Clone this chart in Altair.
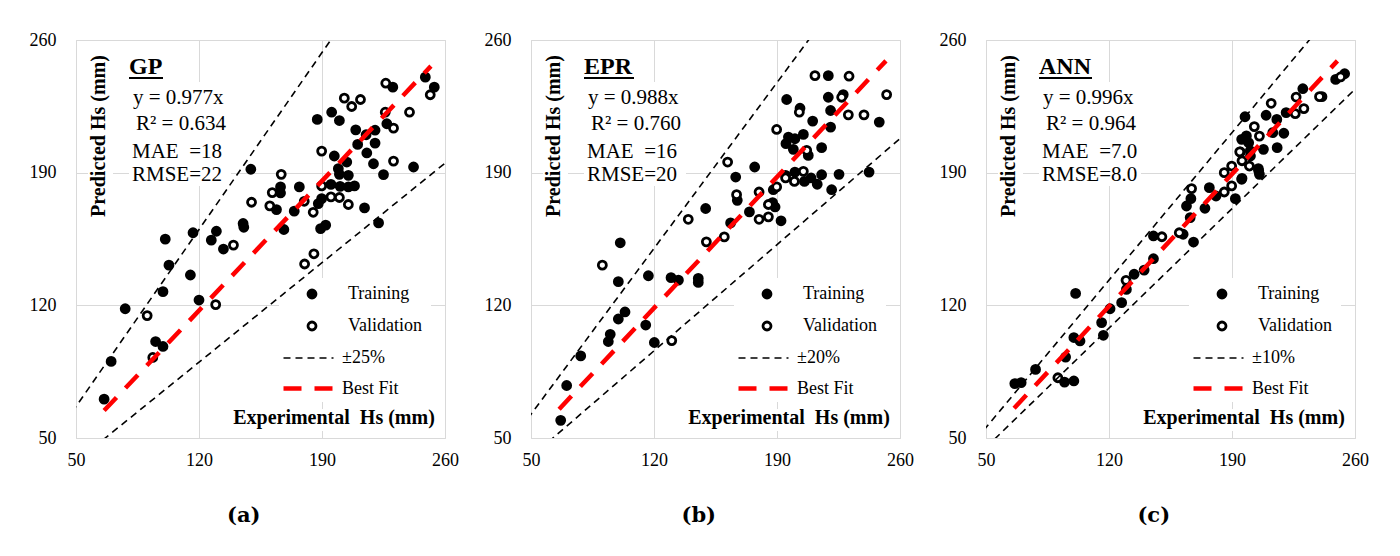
import altair as alt
import pandas as pd

# ---------------- data ----------------
panel_names = ["GP", "EPR", "ANN"]
panel_tags = ["(a)", "(b)", "(c)"]
eq_texts = ["y = 0.977x", "y = 0.988x", "y = 0.996x"]
r2_texts = ["R\u00b2 = 0.634", "R\u00b2 = 0.760", "R\u00b2 = 0.964"]
mae_texts = ["MAE\u00a0\u00a0=18", "MAE\u00a0\u00a0=16", "MAE\u00a0\u00a0=7.0"]
rmse_texts = ["RMSE=22", "RMSE=20", "RMSE=8.0"]
band_labels = ["\u00b125%", "\u00b120%", "\u00b110%"]
x_title = "Experimental\u00a0 Hs (mm)"
y_title = "Predicted Hs (mm)"
tick_values = [50, 120, 190, 260]

# GP
gp_train_x = [66.0, 70.0, 78.0, 95.3, 99.5, 99.5, 102.9, 100.8, 115.1, 120.0, 116.6, 127.0, 129.9, 133.9,
              145.1, 145.5, 149.5, 164.1, 166.4, 166.4, 168.3, 174.2, 177.1, 187.3, 195.5, 199.9, 197.0,
              209.2, 215.1, 220.2, 210.3, 204.1, 199.3, 199.9, 205.0, 215.5, 220.2, 219.3, 225.0, 242.1,
              222.2, 214.2, 195.1, 200.3, 205.0, 208.5, 187.9, 189.8, 189.2, 192.1, 226.9, 230.3, 248.8, 253.9]
gp_train_y = [70.5, 90.4, 118.2, 100.9, 98.3, 127.2, 141.2, 154.9, 136.0, 122.8, 158.3, 154.4, 159.1, 149.7,
              163.2, 161.2, 191.8, 170.5, 182.5, 179.3, 160.0, 169.7, 182.5, 218.1, 221.9, 217.5, 198.8,
              212.6, 210.0, 212.4, 204.9, 195.6, 192.1, 189.1, 188.6, 200.4, 205.6, 194.7, 189.0, 193.0,
              163.5, 171.4, 183.8, 182.8, 182.5, 183.0, 173.7, 176.3, 160.5, 162.3, 215.8, 235.1, 240.4, 235.1]
gp_val_x = [90.5, 93.7, 129.5, 139.6, 149.9, 160.3, 161.7, 166.8, 179.9, 185.0, 180.1, 185.4, 202.7, 206.9,
            211.9, 189.8, 189.8, 195.1, 199.9, 205.0, 226.0, 230.7, 230.7, 239.8, 226.3, 251.6]
gp_val_y = [114.6, 92.5, 120.4, 151.8, 174.4, 172.5, 179.5, 189.1, 174.9, 169.1, 141.8, 147.2, 229.3, 224.9,
            228.6, 201.4, 183.0, 177.2, 176.9, 173.2, 221.9, 213.5, 196.1, 221.9, 237.2, 231.1]

# EPR
epr_train_x = [66.9, 70.3, 78.3, 94.0, 95.1, 99.7, 103.5, 115.3, 120.2, 99.7, 100.8, 116.8, 129.7, 133.9,
               145.2, 145.2, 149.4, 163.6, 166.5, 167.4, 174.3, 177.3, 187.9, 188.9, 192.3, 187.5, 195.5,
               219.2, 219.2, 227.7, 220.5, 220.5, 248.2, 203.1, 210.3, 196.5, 200.2, 195.1, 199.3, 205.0,
               207.8, 215.4, 194.9, 200.2, 205.6, 209.4, 212.9, 215.4, 221.1, 225.3, 242.4]
epr_train_y = [59.3, 77.7, 93.3, 100.9, 104.7, 112.8, 116.5, 109.6, 100.4, 132.5, 153.0, 135.6, 134.6, 133.3,
               134.2, 132.1, 171.1, 163.5, 187.7, 175.4, 169.3, 193.0, 181.0, 171.9, 164.6, 174.2, 228.6,
               241.2, 229.8, 231.2, 222.8, 214.0, 216.7, 224.0, 217.2, 208.8, 207.9, 205.3, 202.3, 210.2,
               199.1, 203.2, 188.6, 190.3, 185.4, 187.2, 183.9, 188.9, 181.0, 189.1, 190.3]
epr_val_x = [130.1, 90.6, 139.5, 149.8, 160.0, 161.9, 167.0, 179.8, 179.8, 185.1, 185.1, 189.8, 189.8, 211.6,
             231.0, 226.8, 230.6, 239.5, 252.4, 202.7, 206.9, 194.9, 199.9, 205.0]
epr_val_y = [101.4, 141.2, 165.4, 153.5, 156.1, 195.6, 178.4, 179.8, 165.4, 173.2, 166.7, 182.5, 212.8, 241.2,
             240.9, 229.8, 220.5, 220.5, 231.2, 221.9, 201.8, 187.2, 185.4, 190.7]

# ANN
ann_train_x = [66.4, 70.0, 78.2, 94.7, 100.0, 95.3, 100.0, 103.5, 101.0, 115.8, 116.8, 120.6, 127.2, 129.9,
               134.3, 140.0, 145.3, 145.3, 162.2, 168.1, 166.2, 164.1, 166.6, 174.6, 177.1, 180.9, 191.9,
               195.5, 195.5, 197.4, 200.5, 199.5, 205.0, 205.6, 207.9, 209.4, 213.2, 215.7, 215.5, 219.5,
               220.8, 230.3, 241.2, 249.0, 254.1, 198.2, 200.4, 205.2, 195.7]
ann_train_y = [78.7, 79.2, 86.2, 79.5, 80.1, 92.7, 103.0, 101.2, 126.3, 110.9, 104.2, 118.2, 121.4, 128.4,
               136.4, 138.6, 144.6, 156.6, 157.5, 153.4, 166.3, 172.4, 176.3, 171.2, 182.1, 177.7, 176.3,
               186.5, 207.6, 219.5, 198.8, 205.8, 192.1, 189.1, 202.3, 220.3, 211.1, 203.2, 218.1, 210.8,
               221.7, 234.3, 230.1, 239.2, 242.2, 209.4, 201.5, 191.0, 187.0]
ann_val_x = [90.9, 129.7, 150.1, 160.0, 167.0, 185.6, 185.6, 189.8, 189.8, 194.8, 202.7, 205.6, 199.9, 212.3,
             226.0, 226.5, 230.9, 239.8, 251.8, 194.4, 195.7]
ann_val_y = [81.8, 133.2, 156.2, 158.3, 181.6, 179.8, 190.0, 193.5, 183.0, 200.9, 214.3, 209.3, 193.5, 226.6,
             221.1, 229.9, 223.8, 230.1, 240.5, 201.0, 196.3]

# reference lines: end points (upper band, lower band, best fit)
gp_upper_x, gp_upper_y = [40, 200], [53.3, 266.7]
gp_lower_x, gp_lower_y = [60, 270], [45.0, 202.5]
gp_fit_x, gp_fit_y = [66, 252], [64.5, 246.2]
epr_upper_x, epr_upper_y = [40, 215], [50.0, 268.8]
epr_lower_x, epr_lower_y = [60, 270], [48.0, 216.0]
epr_fit_x, epr_fit_y = [66, 252], [65.2, 249.0]
ann_upper_x, ann_upper_y = [40, 240], [44.4, 266.7]
ann_lower_x, ann_lower_y = [50, 270], [45.0, 243.0]
ann_fit_x, ann_fit_y = [66, 250], [65.7, 249.0]

# ---------------- styling ----------------
SERIF = "'Liberation Serif', 'Times New Roman', Times, serif"
W, H = 369, 398
GRID = "#d9d9d9"
underline_w = [34, 50, 53]


def points_frame(tx, ty, vx, vy):
    return pd.DataFrame({
        "Experimental": tx + vx,
        "Predicted": ty + vy,
        "set": ["Training"] * len(tx) + ["Validation"] * len(vx),
    })


def lines_frame(band, ux, uy, lx, ly, fx, fy):
    return pd.DataFrame({
        "Experimental": ux + lx + fx,
        "Predicted": uy + ly + fy,
        "grp": ["upper"] * 2 + ["lower"] * 2 + ["fit"] * 2,
        "line": [band] * 4 + ["Best Fit"] * 2,
    })


one = pd.DataFrame({"k": [0]})


def text_layer(s, x, y, size, bold=False, align="left", angle=0):
    return alt.Chart(one).mark_text(
        align=align, baseline="alphabetic", font=SERIF, fontSize=size, angle=angle,
        fontWeight="bold" if bold else "normal", color="black"
    ).encode(x=alt.value(x), y=alt.value(y), text=alt.value(s))


def box(x1, x2, y1, y2):
    return alt.Chart(one).mark_rect(color="white").encode(
        x=alt.value(x1), x2=alt.value(x2), y=alt.value(y1), y2=alt.value(y2))


def make_panel(i, pts, lns):
    xs = alt.Scale(domain=[50, 260], nice=False, zero=False)
    ys = alt.Scale(domain=[50, 260], nice=False, zero=False)
    xaxis = alt.Axis(values=tick_values, grid=True, gridColor=GRID, domain=False, ticks=False,
                     labelFont=SERIF, labelFontSize=18, labelColor="black", labelPadding=13,
                     labelFlush=False, labelOverlap=False, title=None)
    yaxis = alt.Axis(values=tick_values, grid=True, gridColor=GRID, domain=False, ticks=False,
                     labelFont=SERIF, labelFontSize=18, labelColor="black", labelPadding=20,
                     labelFlush=False, labelOverlap=False, title=None)

    x = alt.X("Experimental:Q", scale=xs, axis=xaxis)
    y = alt.Y("Predicted:Q", scale=ys, axis=yaxis)

    pt_legend = alt.Legend(title=None, orient="none", legendX=227, legendY=245, padding=0,
                           labelFont=SERIF, labelFontSize=18, labelColor="black", labelOffset=27,
                           symbolType="circle", symbolSize=64, symbolStrokeColor="black",
                           symbolStrokeWidth=2.8, rowPadding=12)
    points = alt.Chart(pts).mark_point(filled=True, shape="circle", size=64, stroke="black",
                                       strokeWidth=2.8, opacity=1).encode(
        x=x, y=y,
        fill=alt.Fill("set:N", scale=alt.Scale(domain=["Training", "Validation"],
                                               range=["black", "white"]), legend=pt_legend),
    )

    dom = [band_labels[i], "Best Fit"]
    ln_legend = alt.Legend(title=None, orient="none", legendX=220, legendY=307, padding=0,
                           labelFont=SERIF, labelFontSize=18, labelColor="black", labelOffset=21,
                           symbolType="M-2.5,0H2.5", symbolSize=400, rowPadding=9)
    lines = alt.Chart(lns).mark_line(clip=True, strokeCap="butt").encode(
        x=x, y=y, detail="grp:N",
        color=alt.Color("line:N", scale=alt.Scale(domain=dom, range=["black", "red"]), legend=ln_legend),
        strokeDash=alt.StrokeDash("line:N", scale=alt.Scale(domain=dom, range=[[7, 5], [18, 13]]),
                                  legend=ln_legend),
        strokeWidth=alt.StrokeWidth("line:N", scale=alt.Scale(domain=dom, range=[1.6, 4.5]),
                                    legend=ln_legend),
    )

    layers = [
        box(12, 37, 8, 186),
        box(53, 155, 42, 146),
        box(203, 355, 238, 362),
        box(150, 362, 369, 391),
        points,
        lines,
        text_layer(y_title, 29, 96, 20, bold=True, align="center", angle=270),
        text_layer(x_title, 258, 384, 20, bold=True, align="center"),
        text_layer(panel_names[i], 53, 34, 24, bold=True),
        alt.Chart(one).mark_rule(color="black", strokeWidth=2).encode(
            x=alt.value(53), x2=alt.value(53 + underline_w[i]), y=alt.value(38)),
        text_layer(eq_texts[i], 57, 64, 21),
        text_layer(r2_texts[i], 60, 90, 21),
        text_layer(mae_texts[i], 56, 118, 21),
        text_layer(rmse_texts[i], 56, 141, 21),
    ]
    return alt.layer(*layers).properties(
        width=W, height=H,
        title=alt.TitleParams(text=panel_tags[i], orient="bottom", frame="bounds", anchor="middle",
                              font="DejaVu Serif", fontSize=21, fontWeight="bold", color="black",
                              offset=36),
    ).resolve_scale(color="shared")


p1 = make_panel(0, points_frame(gp_train_x, gp_train_y, gp_val_x, gp_val_y),
                lines_frame(band_labels[0], gp_upper_x, gp_upper_y, gp_lower_x, gp_lower_y, gp_fit_x, gp_fit_y))
p2 = make_panel(1, points_frame(epr_train_x, epr_train_y, epr_val_x, epr_val_y),
                lines_frame(band_labels[1], epr_upper_x, epr_upper_y, epr_lower_x, epr_lower_y, epr_fit_x, epr_fit_y))
p3 = make_panel(2, points_frame(ann_train_x, ann_train_y, ann_val_x, ann_val_y),
                lines_frame(band_labels[2], ann_upper_x, ann_upper_y, ann_lower_x, ann_lower_y, ann_fit_x, ann_fit_y))

chart = alt.hconcat(p1, p2, p3, spacing=24).resolve_scale(
    x="independent", y="independent", fill="independent", color="independent",
    strokeDash="independent", strokeWidth="independent",
).resolve_legend(
    fill="independent", color="independent", strokeDash="independent", strokeWidth="independent",
).properties(
    padding={"left": 20, "top": 22, "right": 5, "bottom": 5}, background="white",
).configure_view(stroke=GRID, strokeWidth=1)

chart.save("out.html", embed_options={"renderer": "svg", "actions": False})
